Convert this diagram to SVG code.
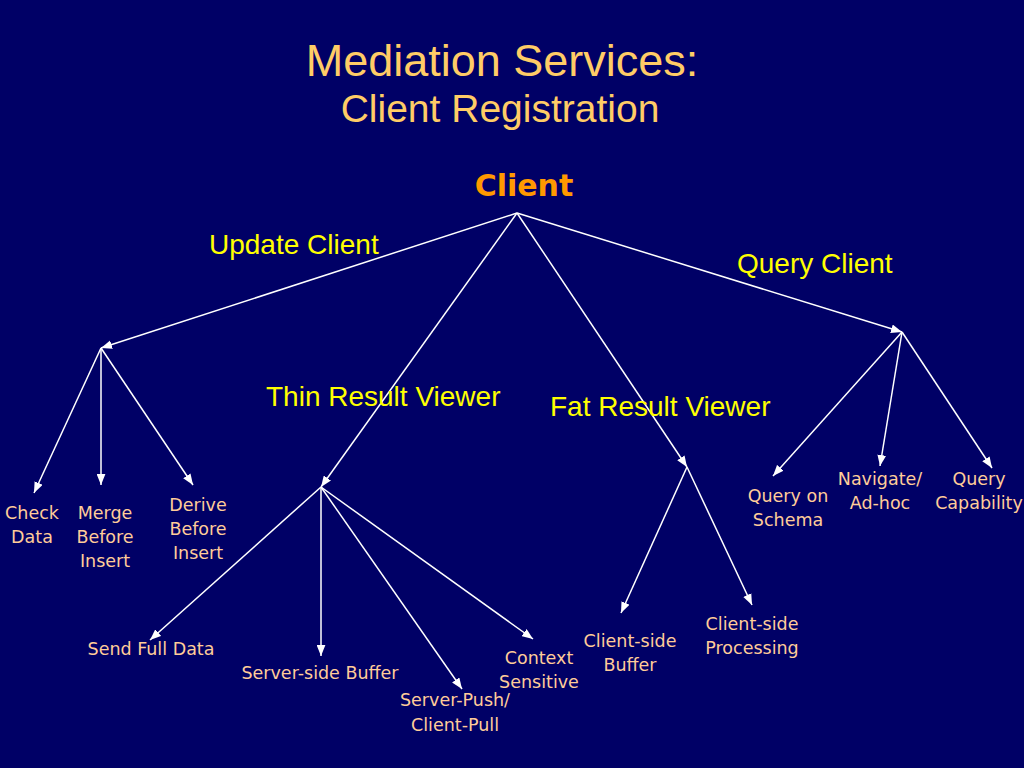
<svg xmlns="http://www.w3.org/2000/svg" width="1024" height="768" viewBox="0 0 1024 768">
<defs>
<marker id="ah" viewBox="0 0 10 8" refX="10" refY="4" markerWidth="11" markerHeight="9" markerUnits="userSpaceOnUse" orient="auto">
<path d="M0,0 L10,4 L0,8 z" fill="#ffffff"/>
</marker>
<style>
.c{stroke:#ffffff;stroke-width:1.5;fill:none;marker-end:url(#ah)}
.t{font-family:"Liberation Sans",Arial,sans-serif;fill:#ffcc66;text-anchor:middle}
.y{font-family:"Liberation Sans",Arial,sans-serif;fill:#ffff00;font-size:28px}
.l{font-family:"DejaVu Sans",sans-serif;fill:#ffcc99;font-size:17.5px;text-anchor:middle}
</style>
</defs>
<rect width="1024" height="768" fill="#000066"/>
<g id="title">
<text class="t" x="502" y="76" font-size="45">Mediation Services:</text>
<text class="t" x="500" y="122" font-size="39">Client Registration</text>
</g>
<g id="connectors">
<line class="c" x1="517" y1="213" x2="101" y2="348"/>
<line class="c" x1="517" y1="213" x2="321" y2="487"/>
<line class="c" x1="517" y1="213" x2="687" y2="467"/>
<line class="c" x1="517" y1="213" x2="902" y2="332"/>
<line class="c" x1="101" y1="348" x2="34" y2="493"/>
<line class="c" x1="101" y1="348" x2="101" y2="485"/>
<line class="c" x1="101" y1="348" x2="193" y2="485"/>
<line class="c" x1="321" y1="487" x2="150" y2="640"/>
<line class="c" x1="321" y1="487" x2="321" y2="656"/>
<line class="c" x1="321" y1="487" x2="462" y2="689"/>
<line class="c" x1="321" y1="487" x2="533" y2="639"/>
<line class="c" x1="687" y1="467" x2="621" y2="613"/>
<line class="c" x1="687" y1="467" x2="752" y2="605"/>
<line class="c" x1="902" y1="332" x2="773" y2="476"/>
<line class="c" x1="902" y1="332" x2="880" y2="466"/>
<line class="c" x1="902" y1="332" x2="992" y2="468"/>
</g>
<g id="client"><text x="524" y="196" font-family="'DejaVu Sans',sans-serif" font-weight="bold" font-size="30" fill="#ff9900" text-anchor="middle">Client</text></g>
<g id="update-client"><text class="y" x="209" y="254">Update Client</text></g>
<g id="query-client"><text class="y" x="737" y="273">Query Client</text></g>
<g id="thin-result-viewer"><text class="y" x="266" y="406">Thin Result Viewer</text></g>
<g id="fat-result-viewer"><text class="y" x="550" y="416">Fat Result Viewer</text></g>
<g id="check-data"><text class="l" x="32" y="519">Check</text><text class="l" x="32" y="543">Data</text></g>
<g id="merge-before-insert"><text class="l" x="105" y="519">Merge</text><text class="l" x="105" y="543">Before</text><text class="l" x="105" y="567">Insert</text></g>
<g id="derive-before-insert"><text class="l" x="198" y="511">Derive</text><text class="l" x="198" y="535">Before</text><text class="l" x="198" y="559">Insert</text></g>
<g id="send-full-data"><text class="l" x="151" y="655">Send Full Data</text></g>
<g id="server-side-buffer"><text class="l" x="320" y="679">Server-side Buffer</text></g>
<g id="server-push"><text class="l" x="455" y="706">Server-Push/</text><text class="l" x="455" y="731">Client-Pull</text></g>
<g id="context-sensitive"><text class="l" x="539" y="664">Context</text><text class="l" x="539" y="688">Sensitive</text></g>
<g id="client-side-buffer"><text class="l" x="630" y="647">Client-side</text><text class="l" x="630" y="671">Buffer</text></g>
<g id="client-side-processing"><text class="l" x="752" y="630">Client-side</text><text class="l" x="752" y="654">Processing</text></g>
<g id="query-on-schema"><text class="l" x="788" y="502">Query on</text><text class="l" x="788" y="526">Schema</text></g>
<g id="navigate-adhoc"><text class="l" x="880" y="485">Navigate/</text><text class="l" x="880" y="509">Ad-hoc</text></g>
<g id="query-capability"><text class="l" x="979" y="485">Query</text><text class="l" x="979" y="509">Capability</text></g>
</svg>
